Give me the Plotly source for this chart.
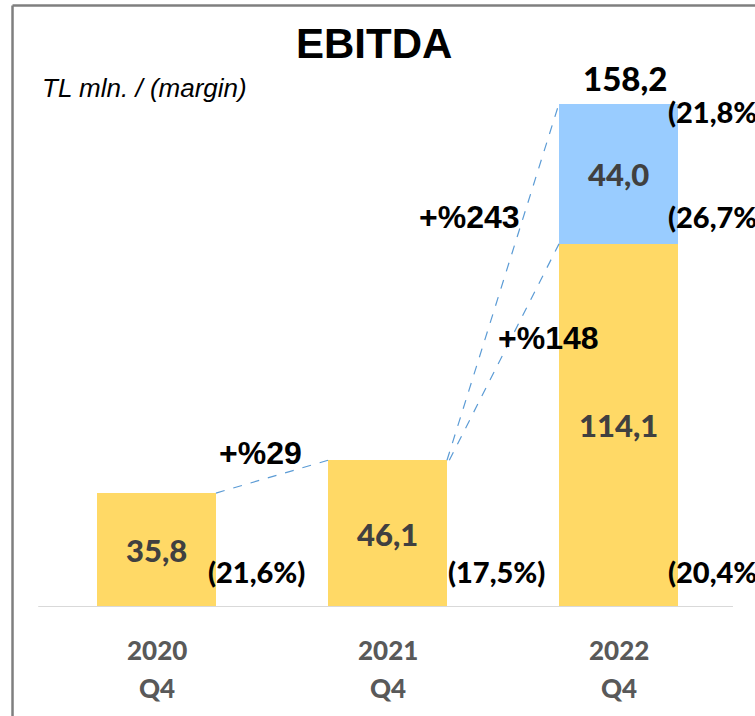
import plotly.graph_objects as go

categories = ["2020", "2021", "2022"]
quarter_labels = ["Q4", "Q4", "Q4"]
base_values = [35.8, 46.1, 114.1]
extra_values = [0, 0, 44.0]
totals = [35.8, 46.1, 158.2]
margins = ["(21,6%)", "(17,5%)", "(20,4%)"]
extra_margin = "(26,7%)"
total_margin = "(21,8%)"
growth_labels = ["+%29", "+%243", "+%148"]

YELLOW = "#FFD966"
BLUE = "#99CCFF"
LINE_BLUE = "#5B9BD5"
CAL = "Lato, Carlito, Calibri, sans-serif"
ARI = "Liberation Sans, Arial, sans-serif"
W = 0.515
xs = list(range(len(categories)))


def fmt(v):
    return f"{v:.1f}".replace(".", ",")


def cal(size, color):
    return dict(family=CAL, size=size, color=color, weight=900)


fig = go.Figure()
fig.add_trace(go.Bar(x=xs, y=base_values, width=W, marker=dict(color=YELLOW, line=dict(width=0)),
                     hoverinfo="skip"))
fig.add_trace(go.Bar(x=xs, y=extra_values, width=W, marker=dict(color=BLUE, line=dict(width=0)),
                     hoverinfo="skip"))

ann = []
# value labels inside segments
for i in xs:
    ann.append(dict(x=i, y=base_values[i] / 2, text=fmt(base_values[i]),
                    showarrow=False, font=cal(31, "#404040"),
                    xanchor="center", yanchor="middle"))
    if extra_values[i] > 0:
        ann.append(dict(x=i, y=base_values[i] + extra_values[i] / 2,
                        text=fmt(extra_values[i]),
                        showarrow=False, font=cal(31, "#404040"),
                        xanchor="center", yanchor="middle"))
# total on top of 2022
ann.append(dict(x=2, y=totals[2], text=fmt(totals[2]),
                showarrow=False, font=cal(33, "black"),
                xanchor="center", yanchor="bottom", xshift=6, yshift=4))
# margin labels
margin_x = [0.216, 1.255, 2.205]
for i in xs:
    ann.append(dict(x=margin_x[i], y=11.3, text=margins[i], showarrow=False,
                    font=cal(29, "black"), xanchor="left", yanchor="middle"))
ann.append(dict(x=2.205, y=122.6, text=extra_margin, showarrow=False,
                font=cal(29, "black"), xanchor="left", yanchor="middle"))
ann.append(dict(x=2.205, y=155.6, text=total_margin, showarrow=False,
                font=cal(29, "black"), xanchor="left", yanchor="middle"))
# growth labels
growth_pos = [(0.452, 48.4), (1.357, 122.6), (1.699, 84.5)]
for (gx, gy), t in zip(growth_pos, growth_labels):
    ann.append(dict(x=gx, y=gy, text="<b>" + t + "</b>", showarrow=False,
                    font=dict(family=ARI, size=32, color="black"), xanchor="center", yanchor="middle"))
# category labels (below the axis)
for i in xs:
    ann.append(dict(x=i, yref="paper", y=-0.0795, text=categories[i], showarrow=False,
                    font=cal(26, "#595959"), xanchor="center", yanchor="middle"))
    ann.append(dict(x=i, yref="paper", y=-0.1497, text=quarter_labels[i], showarrow=False,
                    font=cal(26, "#595959"), xanchor="center", yanchor="middle"))
# title & subtitle
ann.append(dict(xref="paper", yref="paper", x=0.4805, y=1.0425, text="<b>EBITDA</b>", showarrow=False,
                font=dict(family=ARI, size=42, color="black"), xanchor="center", yanchor="middle"))
ann.append(dict(xref="paper", yref="paper", x=-0.0014, y=0.959, text="<i>TL mln. / (margin)</i>",
                showarrow=False, font=dict(family=ARI, size=26, color="black"),
                xanchor="left", yanchor="middle"))

shapes = []
dash = dict(color=LINE_BLUE, width=1.2, dash="dash")
shapes.append(dict(type="line", xref="x", yref="y", x0=0 + W / 2, y0=totals[0], x1=1 - W / 2, y1=totals[1], line=dash))
shapes.append(dict(type="line", xref="x", yref="y", x0=1 + W / 2, y0=totals[1], x1=2 - W / 2, y1=totals[2], line=dash))
shapes.append(dict(type="line", xref="x", yref="y", x0=1 + W / 2 + 0.01, y0=totals[1], x1=2 - W / 2, y1=base_values[2], line=dash))
# frame
shapes.append(dict(type="line", xref="paper", yref="paper", x0=-0.0411, y0=-0.21, x1=-0.0411, y1=1.1118,
                   line=dict(color="#7F7F7F", width=2.5)))
shapes.append(dict(type="line", xref="paper", yref="paper", x0=-0.0411, y0=1.1118, x1=1.1, y1=1.1118,
                   line=dict(color="#7F7F7F", width=2.5)))
# baseline (slightly wider than plot area, as in the reference)
shapes.append(dict(type="line", xref="paper", yref="y", x0=-0.004, y0=0, x1=0.9985, y1=0,
                   line=dict(color="#D9D9D9", width=2)))

fig.update_layout(
    width=755, height=716, barmode="stack", showlegend=False,
    margin=dict(l=41, r=21, t=66, b=109),
    paper_bgcolor="white", plot_bgcolor="white",
    xaxis=dict(range=[-0.5, 2.5], showticklabels=False, showgrid=False, zeroline=False,
               showline=False, ticks="", fixedrange=True),
    yaxis=dict(range=[0, 170], visible=False, showgrid=False, zeroline=False, fixedrange=True),
    annotations=ann, shapes=shapes,
)

fig.write_html("out.html", config={"displayModeBar": False},
               post_script="document.body.style.margin='0';document.body.style.overflow='hidden';")
